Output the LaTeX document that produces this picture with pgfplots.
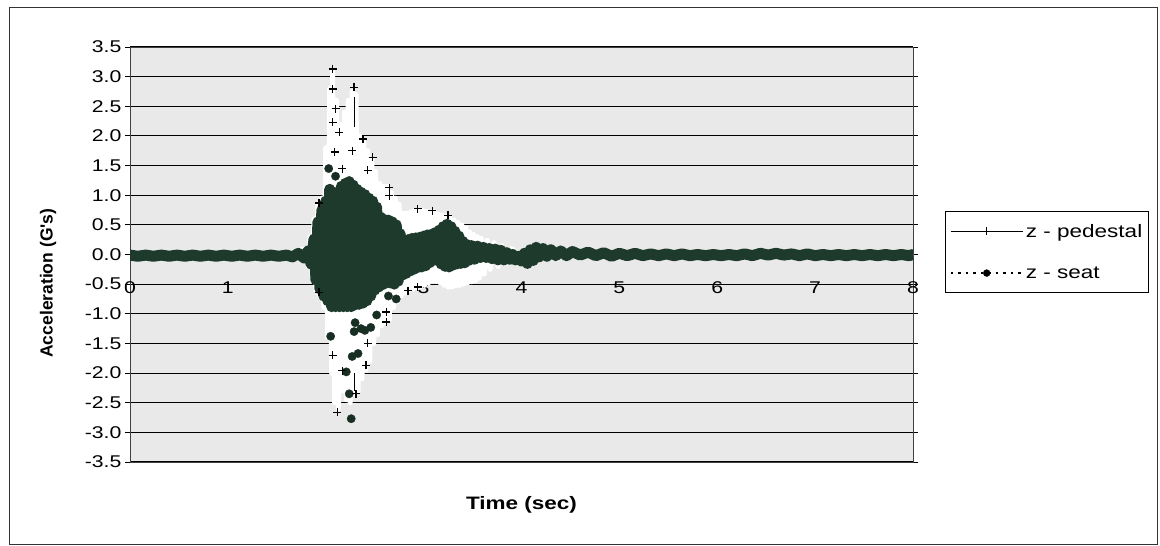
\documentclass[border=0pt]{standalone}
\usepackage{pgfplots}
\usepackage{pgfplotstable}
\pgfplotsset{compat=1.18}
\usepackage{fontspec}
\setmainfont{Liberation Sans}[FakeStretch=1.25]
\newfontfamily\ylabfont{Liberation Sans}
\definecolor{plotgray}{RGB}{233,233,233}
\definecolor{seatgreen}{RGB}{30,58,44}
\newcommand\ticfont{\fontsize{17}{20}\selectfont}

\pgfplotstableread{
t v
0.00 -0.01
0.08 -0.03
0.16 -0.01
0.24 -0.03
0.32 -0.01
0.40 -0.03
0.48 -0.01
0.56 -0.03
0.64 -0.01
0.72 -0.03
0.80 -0.01
0.88 -0.03
0.96 -0.01
1.04 -0.03
1.12 -0.01
1.20 -0.03
1.28 -0.01
1.36 -0.03
1.44 -0.01
1.52 -0.03
1.60 -0.01
1.66 -0.04
1.72 0.02
1.78 -0.06
1.82 0.06
1.85 -0.16
1.88 0.26
1.90 -0.43
1.92 0.55
1.94 -0.58
1.96 0.75
1.98 -0.70
2.00 0.90
2.02 -0.78
2.04 1.10
2.06 -0.88
2.08 1.05
2.10 -0.88
2.12 1.00
2.14 -0.88
2.16 1.15
2.18 -0.88
2.20 1.20
2.22 -0.88
2.24 1.23
2.26 -0.88
2.28 1.17
2.30 -0.85
2.32 1.10
2.34 -0.84
2.36 1.05
2.38 -0.82
2.40 1.01
2.42 -0.78
2.44 0.95
2.46 -0.70
2.48 0.90
2.50 -0.60
2.52 0.80
2.54 -0.55
2.56 0.63
2.58 -0.51
2.60 0.59
2.62 -0.48
2.64 0.58
2.66 -0.48
2.68 0.55
2.70 -0.50
2.72 0.50
2.74 -0.45
2.76 0.35
2.78 -0.35
2.80 0.25
2.82 -0.32
2.84 0.25
2.86 -0.28
2.88 0.27
2.90 -0.25
2.92 0.28
2.94 -0.22
2.96 0.29
2.98 -0.21
3.00 0.31
3.02 -0.19
3.04 0.33
3.06 -0.14
3.08 0.34
3.10 -0.10
3.12 0.37
3.14 -0.10
3.16 0.41
3.18 -0.16
3.20 0.47
3.22 -0.20
3.24 0.51
3.26 -0.21
3.28 0.47
3.30 -0.18
3.32 0.39
3.34 -0.16
3.36 0.31
3.38 -0.15
3.40 0.22
3.42 -0.14
3.44 0.17
3.46 -0.10
3.49 0.15
3.52 -0.08
3.55 0.14
3.58 -0.05
3.61 0.12
3.64 -0.05
3.67 0.10
3.70 -0.07
3.73 0.09
3.76 -0.09
3.79 0.07
3.82 -0.09
3.85 0.03
3.88 -0.08
3.91 0.00
3.94 -0.09
3.97 -0.03
4.00 -0.11
4.03 0.02
4.06 -0.15
4.09 0.08
4.12 -0.10
4.15 0.12
4.18 -0.04
4.22 0.10
4.26 -0.03
4.30 0.08
4.35 -0.02
4.40 0.06
4.46 -0.02
4.52 0.05
4.60 -0.01
4.68 0.04
4.76 -0.02
4.84 0.03
4.92 -0.03
5.00 0.02
5.08 -0.02
5.16 0.02
5.24 -0.02
5.32 0.01
5.40 -0.02
5.48 0.01
5.56 -0.02
5.64 0.01
5.72 -0.02
5.80 0.00
5.88 -0.02
5.96 0.00
6.04 -0.02
6.12 0.00
6.20 -0.02
6.28 0.01
6.36 -0.02
6.44 0.02
6.52 -0.01
6.60 0.02
6.68 -0.01
6.76 0.01
6.84 -0.02
6.92 0.01
7.00 -0.02
7.08 0.00
7.16 -0.02
7.24 0.00
7.32 -0.02
7.40 0.00
7.48 -0.02
7.56 0.00
7.64 -0.02
7.72 0.00
7.80 -0.02
7.88 0.00
7.96 -0.02
8.00 0.00
}\seat

\pgfplotstableread{
t v
2.03 1.45
2.10 1.32
2.05 -1.38
2.21 -1.98
2.24 -2.35
2.26 -2.77
2.29 -1.30
2.33 -1.67
2.27 -1.72
2.30 -1.15
2.36 -1.25
2.40 -1.28
2.46 -1.23
2.52 -1.02
2.72 -0.75
2.64 -0.70
}\seatpeaks

\pgfplotstableread{
t v
0.00 0.02
0.40 -0.03
0.80 0.02
1.20 -0.03
1.60 0.02
1.80 0.10
1.82 -0.20
1.84 0.30
1.86 -0.35
1.88 0.60
1.90 -0.60
1.92 0.85
1.94 -0.70
1.96 0.95
1.98 -0.90
2.00 1.80
2.02 -1.40
2.04 2.80
2.06 -2.00
2.07 3.10
2.09 -2.50
2.11 2.60
2.13 -2.60
2.15 2.20
2.17 -2.30
2.19 2.40
2.21 -2.45
2.23 2.60
2.25 -2.50
2.27 2.75
2.29 -2.35
2.31 2.70
2.33 -2.30
2.35 2.00
2.37 -2.10
2.39 1.90
2.41 -1.95
2.43 1.75
2.45 -1.80
2.47 1.60
2.49 -1.50
2.51 1.40
2.53 -1.35
2.55 1.20
2.57 -1.20
2.59 1.15
2.61 -1.15
2.63 1.15
2.65 -1.10
2.67 1.05
2.69 -0.90
2.71 0.95
2.73 -0.80
2.75 0.85
2.77 -0.70
2.79 0.70
2.81 -0.65
2.83 0.70
2.85 -0.60
2.87 0.72
2.89 -0.58
2.91 0.75
2.93 -0.56
2.95 0.75
2.97 -0.54
2.99 0.74
3.01 -0.52
3.03 0.73
3.05 -0.48
3.07 0.72
3.09 -0.45
3.11 0.72
3.13 -0.45
3.15 0.68
3.17 -0.48
3.19 0.66
3.21 -0.52
3.23 0.65
3.25 -0.55
3.27 0.62
3.29 -0.55
3.31 0.58
3.33 -0.53
3.35 0.54
3.37 -0.52
3.39 0.50
3.41 -0.50
3.43 0.45
3.45 -0.48
3.47 0.38
3.49 -0.46
3.51 0.34
3.53 -0.44
3.55 0.30
3.57 -0.40
3.59 0.27
3.62 -0.33
3.65 0.24
3.68 -0.25
3.72 0.20
3.76 -0.20
3.80 0.15
3.85 -0.15
3.90 0.10
4.00 -0.05
4.50 0.03
5.00 -0.03
6.00 0.02
7.00 -0.02
8.00 0.01
}\pedestal

\pgfplotstableread{
t v
2.07 3.13
2.07 2.79
2.29 2.82
2.10 2.46
2.07 2.23
2.14 2.06
2.38 1.95
2.09 1.73
2.27 1.75
2.48 1.64
2.17 1.45
2.43 1.42
2.65 1.13
2.65 0.99
1.93 0.87
2.94 0.77
3.09 0.74
3.25 0.66
1.93 -0.64
2.62 -0.97
2.62 -1.14
2.43 -1.50
2.41 -1.87
2.17 -1.96
2.07 -1.70
2.12 -2.66
2.31 -2.35
2.94 -0.55
2.84 -0.61
}\pedpeaks

\begin{document}
\begin{tikzpicture}
\path[use as bounding box] (0pt,0pt) rectangle (1160pt,546pt);
\draw[black!80, line width=0.9pt] (9pt,2pt) rectangle (1157pt,539pt);
\begin{axis}[
  at={(130pt,84pt)}, anchor=south west,
  width=783pt, height=415pt, scale only axis,
  xmin=0, xmax=8, ymin=-3.5, ymax=3.5,
  axis background/.style={fill=plotgray},
  axis line style={black!75, line width=0.9pt},
  xtick={0,1,2,3,4,5,6,7,8},
  xticklabels={0,1,2,3,4,5,6,7,8},
  xtick style={draw=none},
  xticklabel style={anchor=center, yshift=179pt, font=\ticfont},
  ytick={-3.5,-3,-2.5,-2,-1.5,-1,-0.5,0,0.5,1,1.5,2,2.5,3,3.5},
  yticklabels={-3.5,-3.0,-2.5,-2.0,-1.5,-1.0,-0.5,0.0,0.5,1.0,1.5,2.0,2.5,3.0,3.5},
  tick align=outside, major tick length=5pt,
  ytick style={black, line width=0.9pt},
  yticklabel style={font=\ticfont},
  ymajorgrids, grid style={black, line width=1.1pt},
  xlabel={Time (sec)},
  xlabel style={at={(axis description cs:0.5,0)}, anchor=center, yshift=-43pt, font=\fontsize{18}{21}\selectfont\bfseries},
  ylabel={Acceleration (G's)},
  ylabel style={at={(axis description cs:-0.1047,0.431)}, anchor=center, font=\ylabfont\fontsize{17.5}{20}\selectfont\bfseries},
  legend style={at={(axis description cs:1.0409,0.407)}, anchor=south west, draw=black, line width=0.9pt, fill=white, font=\fontsize{18}{21}\selectfont, inner xsep=4pt, inner ysep=11pt, row sep=24pt},
  legend cell align=left,
  legend image code/.code={\draw[mark repeat=2,mark phase=2,#1] plot coordinates {(0pt,0pt) (36pt,0pt) (72pt,0pt)};},
]
\addlegendimage{black, line width=1pt, mark=+, mark size=4pt}
\addlegendentry{z - pedestal}
\addlegendimage{black, line width=2.5pt, dash pattern=on 2.5pt off 5pt, mark=*, mark size=3.5pt, mark options={solid, line width=0.3pt}}
\addlegendentry{z - seat}
\addplot[white, line width=5pt, line join=round, forget plot] table[x=t,y=v] {\pedestal};
\addplot[seatgreen, line width=11pt, line join=round, line cap=round, mark=none, forget plot] table[x=t,y=v] {\seat};
\addplot[only marks, mark=*, mark size=4.2pt, mark options={fill=seatgreen!80!black, draw=seatgreen!80!black, line width=0.3pt}, forget plot] table[x=t,y=v] {\seatpeaks};
\addplot[black, line width=1.2pt, forget plot] coordinates {(2.29,2.65) (2.29,2.15)};
\addplot[black, line width=1.2pt, forget plot] coordinates {(2.29,-2.0) (2.29,-2.3)};
\addplot[only marks, black, mark=+, mark size=4pt, mark options={line width=1.3pt}, forget plot] table[x=t,y=v] {\pedpeaks};
\end{axis}
\end{tikzpicture}
\end{document}
